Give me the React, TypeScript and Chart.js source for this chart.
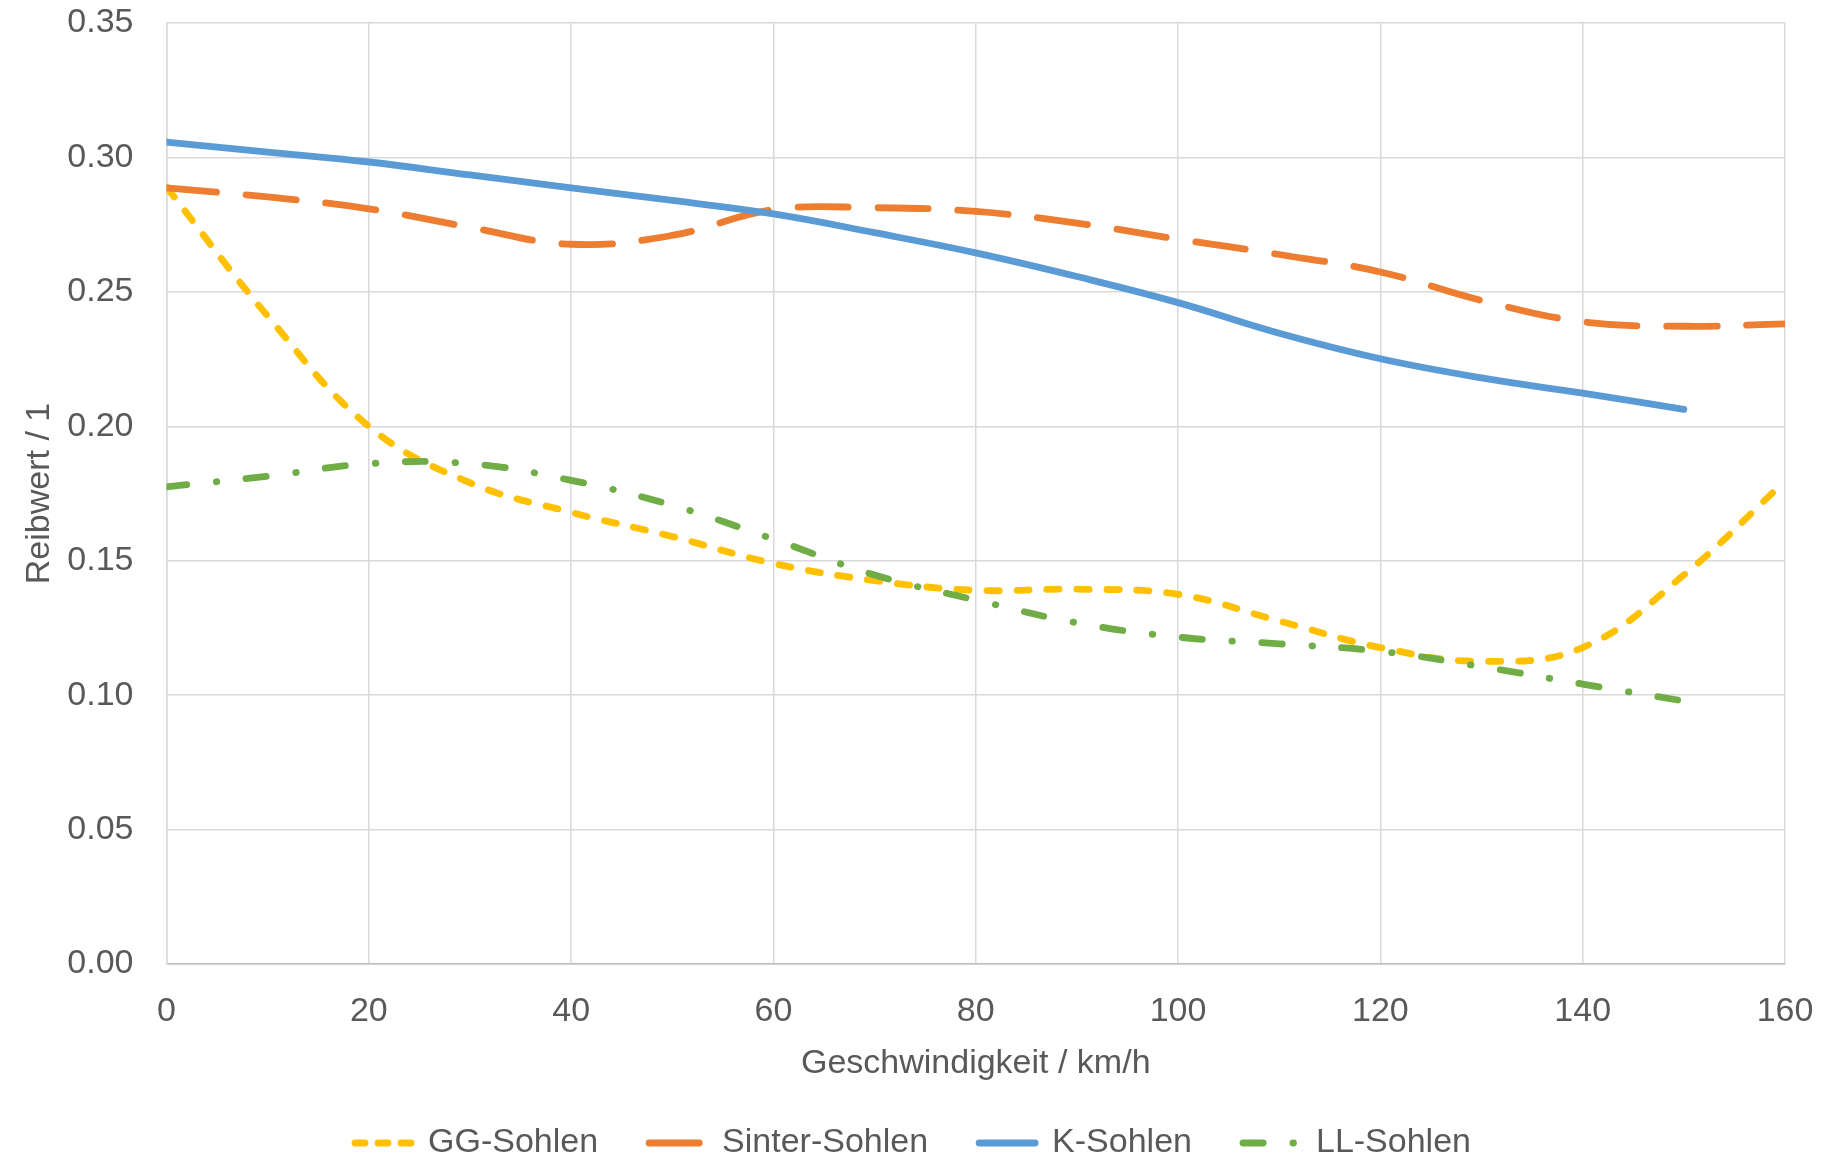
import React, { useEffect, useRef } from "react";
import { Chart, registerables } from "chart.js";

Chart.register(...registerables);

// Geschwindigkeit / km/h
const speeds = [0, 10, 20, 30, 40, 50, 60, 70, 80, 90, 100, 110, 120, 130, 140, 150, 160];

// Reibwert series
const ggSohlen = [0.289, 0.241, 0.2, 0.179, 0.168, 0.159, 0.149, 0.1426, 0.139, 0.1394, 0.1375, 0.1276, 0.1177, 0.1126, 0.1177, 0.1447, 0.1796];
const sinterSohlen = [0.2887, 0.2853, 0.2809, 0.274, 0.2677, 0.271, 0.2806, 0.2813, 0.2799, 0.2756, 0.2696, 0.2639, 0.2574, 0.2468, 0.2389, 0.2372, 0.2381];
const kSohlen = [0.3057, 0.302, 0.2983, 0.2935, 0.2887, 0.284, 0.279, 0.272, 0.2645, 0.2557, 0.246, 0.2346, 0.2251, 0.218, 0.2123, 0.2063];
const llSohlen = [0.1775, 0.1814, 0.1861, 0.1861, 0.1799, 0.1706, 0.158, 0.1447, 0.1354, 0.1269, 0.1216, 0.1191, 0.1163, 0.1106, 0.1041, 0.0978];

const seriesNames = ["GG-Sohlen", "Sinter-Sohlen", "K-Sohlen", "LL-Sohlen"];
const seriesColors = ["#FFC000", "#ED7D31", "#5B9BD5", "#70AD47"];

const xTickValues = [0, 20, 40, 60, 80, 100, 120, 140, 160];
const yTickValues = [0, 0.05, 0.1, 0.15, 0.2, 0.25, 0.3, 0.35];

const xTitle = "Geschwindigkeit / km/h";
const yTitle = "Reibwert / 1";

const FONT = "'Liberation Sans', Arial, sans-serif";
const TEXT = "#595959";
const LW = 6.8;

function toPoints(vals: number[]) {
  return vals.map((v, i) => ({ x: speeds[i], y: v }));
}

export default function App() {
  const ref = useRef<HTMLCanvasElement | null>(null);

  useEffect(() => {
    if (!ref.current) return;
    const dashes = [[12.2, 17.8], [50.2, 29.8], [], [20.2, 29.8, 0.5, 29.5]];
    const legendDashes = [[10, 13], [50.2, 29.8], [], [20.2, 29.8, 0.5, 29.5]];
    const all = [ggSohlen, sinterSohlen, kSohlen, llSohlen];
    const orders = [4, 3, 2, 1];
    const chart = new Chart(ref.current, {
      type: "line",
      data: {
        datasets: all.map((vals, i) => ({
          label: seriesNames[i],
          data: toPoints(vals),
          borderColor: seriesColors[i],
          backgroundColor: seriesColors[i],
          borderWidth: LW,
          borderDash: dashes[i],
          borderCapStyle: "round",
          borderJoinStyle: "round",
          pointRadius: 0,
          pointHoverRadius: 0,
          tension: 0.4,
          fill: false,
          order: orders[i],
        })),
      },
      options: {
        responsive: false,
        animation: false,
        events: [],
        layout: { padding: 0 },
        plugins: {
          tooltip: { enabled: false },
          legend: {
            position: "bottom",
            maxHeight: 77,
            labels: {
              usePointStyle: true,
              pointStyle: "line",
              pointStyleWidth: 56,
              padding: 51,
              color: TEXT,
              font: { family: FONT, size: 34 },
              generateLabels: (c: any) =>
                c.data.datasets.map((ds: any, i: number) => ({
                  text: ds.label,
                  fillStyle: seriesColors[i],
                  strokeStyle: seriesColors[i],
                  lineWidth: LW,
                  lineCap: "round",
                  lineJoin: "round",
                  lineDash: legendDashes[i],
                  lineDashOffset: 0,
                  pointStyle: "line",
                  rotation: 0,
                  hidden: false,
                  fontColor: TEXT,
                  datasetIndex: i,
                })),
            },
          },
        },
        scales: {
          x: {
            type: "linear",
            min: 0,
            max: 160,
            afterBuildTicks: (s: any) => {
              s.ticks = xTickValues.map((v) => ({ value: v }));
            },
            afterFit: (s: any) => {
              s.height = 111;
              s.paddingLeft = 0;
              s.paddingRight = 33;
            },
            grid: { color: "#D9D9D9", lineWidth: 1.5, drawTicks: false },
            border: { display: true, color: "#BFBFBF", width: 1.5 },
            ticks: {
              color: TEXT,
              padding: 27,
              font: { family: FONT, size: 34 },
              callback: (v: any) => String(v),
            },
            title: {
              display: true,
              text: xTitle,
              color: TEXT,
              font: { family: FONT, size: 34 },
              padding: { top: 0, bottom: -9 },
            },
          },
          y: {
            type: "linear",
            min: 0,
            max: 0.35,
            afterBuildTicks: (s: any) => {
              s.ticks = yTickValues.map((v) => ({ value: v }));
            },
            afterFit: (s: any) => {
              s.width = 158.5;
              s.paddingTop = 15;
              s.paddingBottom = 0;
            },
            grid: { color: "#D9D9D9", lineWidth: 1.5, drawTicks: false },
            border: { display: true, color: "#D9D9D9", width: 1.5 },
            ticks: {
              color: TEXT,
              padding: 33,
              font: { family: FONT, size: 34 },
              callback: (v: any) => Number(v).toFixed(2),
            },
            title: {
              display: true,
              text: yTitle,
              color: TEXT,
              font: { family: FONT, size: 34 },
              padding: { top: 11, bottom: 0 },
            },
          },
        },
      } as any,
    });
    return () => chart.destroy();
  }, []);

  return (
    <div style={{ width: 1810, height: 1144 }}>
      <canvas ref={ref} width={1810} height={1144} style={{ display: "block" }} />
    </div>
  );
}
